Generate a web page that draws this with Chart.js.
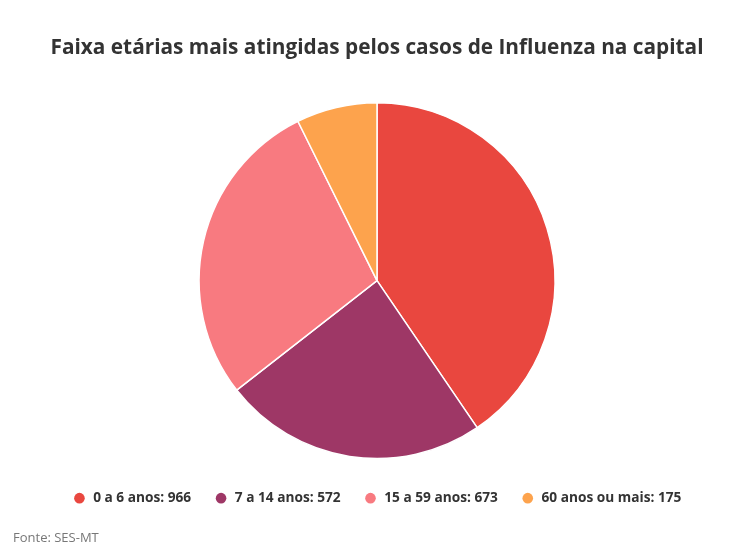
<!DOCTYPE html>
<html>
<head>
<meta charset="utf-8">
<script src="https://cdn.jsdelivr.net/npm/chart.js@4/dist/chart.umd.min.js"></script>
<style>
  html, body { margin: 0; padding: 0; background: #fff; }
  #wrap { position: relative; width: 734px; height: 552px; }
  #footer {
    position: absolute; left: 13px; top: 528px;
    font: 13px "Open Sans", sans-serif; color: #777;
  }
</style>
</head>
<body>
<div id="wrap">
  <canvas id="chart" width="734" height="552"></canvas>
  <div id="footer">Fonte: SES-MT</div>
</div>
<script>
// dados (SES-MT)
const faixas = ['0 a 6 anos', '7 a 14 anos', '15 a 59 anos', '60 anos ou mais']
const casos = [966, 572, 673, 175]
const cores = ['#e9473f', '#9e3766', '#f87a80', '#fda34d']

const ctx = document.getElementById('chart').getContext('2d')
const chart = new Chart(ctx, {
  type: 'pie',
  data: {
    labels: faixas,
    datasets: [
      {
        data: casos,
        backgroundColor: cores,
        borderColor: '#ffffff',
        borderWidth: 1.5,
        hoverOffset: 0
      }
    ]
  },
  options: {
    responsive: false,
    animation: false,
    layout: { padding: { left: 20, right: 0, top: 0, bottom: 37 } },
    plugins: {
      title: {
        display: true,
        text: 'Faixa etárias mais atingidas pelos casos de Influenza na capital',
        color: '#333',
        font: { family: 'Open Sans', size: 20.8, weight: '700', lineHeight: 1.2 },
        padding: { top: 35.6, bottom: 41.4 }
      },
      legend: {
        position: 'bottom',
        // titulo vazio so para afastar a legenda da pizza
        title: { display: true, text: '', font: { size: 9, lineHeight: 1 }, padding: 0 },
        labels: {
          usePointStyle: true,
          pointStyle: 'circle',
          boxWidth: 19,
          boxHeight: 7.5,
          padding: 23,
          color: '#333',
          font: { family: 'Open Sans', size: 13.7, weight: '700' },
          generateLabels(c) {
            const items = Chart.overrides.pie.plugins.legend.labels.generateLabels(c)
            items.forEach((it, i) => {
              it.text = faixas[i] + ': ' + casos[i]
              it.lineWidth = 0
            })
            return items
          }
        }
      },
      tooltip: { enabled: false }
    }
  }
})
</script>
</body>
</html>
